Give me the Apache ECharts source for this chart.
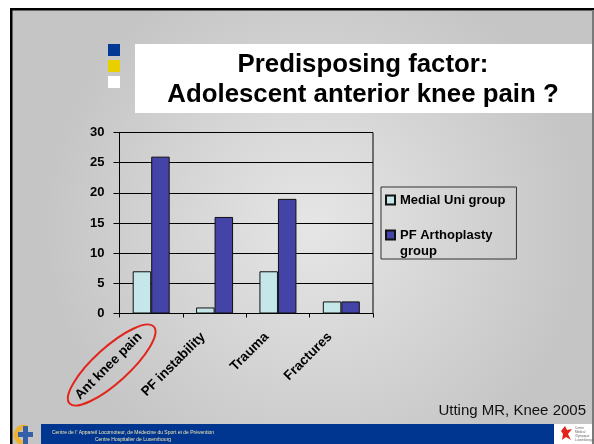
<!DOCTYPE html>
<html>
<head>
<meta charset="utf-8">
<script src="https://cdn.jsdelivr.net/npm/echarts@6/dist/echarts.min.js"></script>
<style>
    html, body {margin: 0; padding: 0; background: #fff;}
    #chart {width: 594px; height: 444px;}
</style>
</head>
<body>
<div id="chart"></div>
<script>
const categories = ['Ant knee pain', 'PF instability', 'Trauma', 'Fractures'];
const medialUni = [7, 1, 7, 2];
const pfArthroplasty = [26, 16, 19, 2];
const yTicks = [0, 5, 10, 15, 20, 25, 30];
const seriesNames = ['Medial Uni group', 'PF Arthoplasty group'];

const font = '"Liberation Sans", Arial, sans-serif';

const chart = echarts.init(document.getElementById('chart'));

chart.setOption({
    animation: false,
    backgroundColor: '#fff',
    textStyle: {fontFamily: font},
    grid: {
        left: 119.5,
        right: 221,
        top: 132.5,
        bottom: 130.5,
        show: true,
        backgroundColor: 'transparent',
        borderColor: '#000',
        borderWidth: 1,
    },
    legend: {
        orient: 'vertical',
        left: 381,
        top: 187,
        padding: [5, 11, 0, 4],
        itemGap: 3,
        itemWidth: 9,
        itemHeight: 9,
        icon: 'rect',
        borderColor: '#333',
        borderWidth: 1,
        textStyle: {fontFamily: font, fontWeight: 'bold', fontSize: 13, color: '#000', lineHeight: 16},
        // second entry wraps under its own first line, like the original slide
        formatter: name => (name === seriesNames[1] ? ' \nPF Arthoplasty\ngroup' : name),
        data: seriesNames,
    },
    xAxis: {
        type: 'category',
        data: categories,
        boundaryGap: true,
        axisLine: {lineStyle: {color: '#000', width: 1}},
        axisTick: {show: true, length: 4, lineStyle: {color: '#000'}},
        axisLabel: {
            interval: 0,
            rotate: 45,
            margin: 10,
            padding: [0, 16, 0, 0],
            fontFamily: font,
            fontWeight: 'bold',
            fontSize: 13.5,
            color: '#000',
        },
    },
    yAxis: {
        type: 'value',
        min: yTicks[0],
        max: yTicks[yTicks.length - 1],
        interval: yTicks[1] - yTicks[0],
        axisLine: {show: true, lineStyle: {color: '#000', width: 1}},
        axisTick: {show: true, length: 6, lineStyle: {color: '#000'}},
        splitLine: {show: true, lineStyle: {color: '#000', width: 1}},
        axisLabel: {
            margin: 15,
            fontFamily: font,
            fontWeight: 'bold',
            fontSize: 13,
            color: '#000',
        },
    },
    series: [
        {
            name: seriesNames[0],
            type: 'bar',
            barWidth: 18.5,
            barGap: '0%',
            itemStyle: {color: '#c6e7e9', borderColor: '#111', borderWidth: 1},
            data: medialUni,
        },
        {
            name: seriesNames[1],
            type: 'bar',
            barWidth: 18.5,
            barGap: '0%',
            itemStyle: {color: '#4343a8', borderColor: '#111', borderWidth: 1},
            data: pfArthroplasty,
        },
    ],
});

const slideBackground = [
    {
        type: 'rect', z: -20, silent: true,
        shape: {x: 10, y: 8, width: 584, height: 436},
        style: {
            fill: new echarts.graphic.RadialGradient(0.52, 0.5, 0.62, [
                {offset: 0, color: '#e6e6e6'},
                {offset: 1, color: '#c5c5c5'},
            ]),
        },
    },
    {type: 'rect', z: -19, silent: true, shape: {x: 10, y: 8, width: 584, height: 2.5}, style: {fill: '#000'}},
    {type: 'rect', z: -19, silent: true, shape: {x: 10, y: 8, width: 2.5, height: 436}, style: {fill: '#000'}},
    {type: 'rect', z: -19, silent: true, shape: {x: 592, y: 10, width: 2, height: 434}, style: {fill: '#7a7a7a'}},
    // title box and the three small squares
    {type: 'rect', z: -18, silent: true, shape: {x: 135, y: 44, width: 457, height: 69}, style: {fill: '#fff'}},
    {type: 'rect', z: -18, silent: true, shape: {x: 108, y: 44, width: 12, height: 12}, style: {fill: '#003893'}},
    {type: 'rect', z: -18, silent: true, shape: {x: 108, y: 60, width: 12, height: 12}, style: {fill: '#e8d000'}},
    {type: 'rect', z: -18, silent: true, shape: {x: 108, y: 76, width: 12, height: 12}, style: {fill: '#fff'}},
];

const titleText = [
    {
        type: 'text', z: 50, silent: true, x: 363, y: 65,
        style: {
            text: 'Predisposing factor:', align: 'center', verticalAlign: 'middle',
            fontFamily: font, fontWeight: 'bold', fontSize: 25.8, fill: '#000',
        },
    },
    {
        type: 'text', z: 50, silent: true, x: 363, y: 95,
        style: {
            text: 'Adolescent anterior knee pain ?', align: 'center', verticalAlign: 'middle',
            fontFamily: font, fontWeight: 'bold', fontSize: 25.8, fill: '#000',
        },
    },
    {
        type: 'text', z: 50, silent: true, x: 586, y: 411,
        style: {
            text: 'Utting MR, Knee 2005', align: 'right', verticalAlign: 'middle',
            fontFamily: font, fontSize: 15, fill: '#111',
        },
    },
];

const footer = [
    {type: 'rect', z: 40, silent: true, shape: {x: 41, y: 424, width: 513, height: 20}, style: {fill: '#003590'}},
    {
        type: 'text', z: 41, silent: true, x: 133, y: 433,
        style: {
            text: 'Centre de l\' Appareil Locomoteur, de Médecine du Sport et de Prévention',
            align: 'center', verticalAlign: 'middle', fontFamily: font, fontSize: 5, fill: '#efe6b0',
        },
    },
    {
        type: 'text', z: 41, silent: true, x: 133, y: 439.5,
        style: {
            text: 'Centre Hospitalier de Luxembourg',
            align: 'center', verticalAlign: 'middle', fontFamily: font, fontSize: 5, fill: '#efe6b0',
        },
    },
    // left logo
    {
        type: 'arc', z: 41, silent: true,
        shape: {cx: 24, cy: 435, r: 8, startAngle: Math.PI * 0.55, endAngle: Math.PI * 1.6},
        style: {stroke: '#eeb233', lineWidth: 5, fill: null},
    },
    {type: 'rect', z: 42, silent: true, shape: {x: 23, y: 426, width: 5, height: 18}, style: {fill: '#3560a8'}},
    {type: 'rect', z: 42, silent: true, shape: {x: 18, y: 432, width: 15, height: 5}, style: {fill: '#3560a8'}},
    // right logo
    {type: 'rect', z: 41, silent: true, shape: {x: 554, y: 424, width: 38, height: 20}, style: {fill: '#fff'}},
    {
        type: 'polygon', z: 42, silent: true,
        shape: {points: [[561, 431], [565, 426], [567, 430], [572, 429], [568, 434], [571, 440], [566, 437], [562, 440], [563, 434]]},
        style: {fill: '#e2231a'},
    },
    {
        type: 'text', z: 42, silent: true, x: 575, y: 426,
        style: {
            text: 'Centre\nMédical\nOlympique\nLuxembourgeois', fontFamily: font, fontSize: 3, lineHeight: 4,
            fill: '#666', align: 'left', verticalAlign: 'top',
        },
    },
];

// red ellipse drawn around the first category label
const firstCat = chart.convertToPixel({xAxisIndex: 0}, categories[0]);
const axisY = chart.convertToPixel({yAxisIndex: 0}, 0);
const ring = {
    type: 'ellipse', z: 60, silent: true,
    x: firstCat - 39.5, y: axisY + 51.5,
    rotation: Math.PI * 0.235,
    shape: {cx: 0, cy: 0, rx: 57, ry: 17.5},
    style: {fill: null, stroke: '#e3241b', lineWidth: 2},
};

chart.setOption({
    graphic: {elements: [...slideBackground, ...titleText, ...footer, ring]},
});
</script>
</body>
</html>
